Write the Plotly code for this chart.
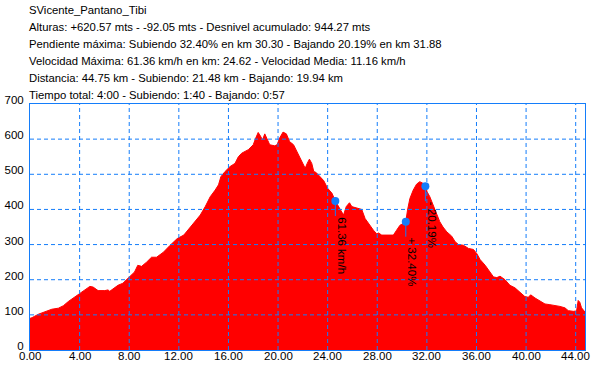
import plotly.graph_objects as go

# ---- data ----
title_lines = [
    "SVicente_Pantano_Tibi",
    "Alturas: +620.57 mts - -92.05 mts - Desnivel acumulado: 944.27 mts",
    "Pendiente máxima: Subiendo 32.40% en km 30.30 - Bajando 20.19% en km 31.88",
    "Velocidad Máxima: 61.36 km/h en km: 24.62 - Velocidad Media: 11.16 km/h",
    "Distancia: 44.75 km - Subiendo: 21.48 km - Bajando: 19.94 km",
    "Tiempo total: 4:00 - Subiendo: 1:40 - Bajando: 0:57",
]

km = [0, 0.16, 0.69, 1.23, 1.76, 2.29, 2.69, 3.09, 3.63, 4.0, 4.43, 4.83, 5.09, 5.49, 6.03,
      6.29, 6.43, 6.69, 7.09, 7.49, 8.0, 8.43, 8.69, 9.0, 9.4, 9.8, 10.2, 10.75, 11.3, 11.87,
      12.4, 12.93, 13.33, 13.73, 14.13, 14.53, 14.93, 15.2, 15.39, 15.73, 16.13, 16.53, 16.8,
      17.07, 17.6, 18.0, 18.2, 18.4, 18.53, 18.75, 18.93, 19.07, 19.33, 19.73, 19.92, 20.13,
      20.4, 20.67, 20.93, 21.25, 21.55, 21.81, 22.0, 22.19, 22.35, 22.53, 22.72, 22.88, 23.07,
      23.41, 23.68, 24.0, 24.35, 24.62, 24.88, 25.15, 25.28, 25.5, 25.76, 25.95, 26.35, 26.75,
      27.02, 27.37, 27.69, 27.96, 28.1, 28.36, 28.9, 29.3, 29.56, 29.83, 30.1, 30.3, 30.44,
      30.63, 30.9, 31.17, 31.43, 31.7, 31.88, 32.02, 32.24, 32.5, 32.77, 33.04, 33.3, 33.61,
      34.0, 34.28, 34.55, 34.95, 35.36, 35.76, 36.03, 36.3, 36.7, 36.97, 37.37, 37.64, 37.9,
      38.3, 38.7, 39.1, 39.5, 39.9, 40.18, 40.37, 40.72, 41.12, 41.52, 41.92, 42.33, 42.73,
      43.13, 43.4, 43.8, 44.07, 44.2, 44.33, 44.47, 44.75]
elev = [90, 92, 102, 110, 116, 119, 126, 138, 152, 160, 171, 181, 179, 169, 169,
        171, 167, 174, 184, 190, 208, 222, 241, 238, 250, 264, 264, 278, 298, 317,
        327, 350, 370, 384, 408, 436, 455, 470, 493, 508, 522, 531, 550,
        560, 570, 584, 603, 619, 612, 598, 615, 603, 584, 581, 584, 603,
        620, 615, 593, 584, 562, 541, 527, 517, 531, 543, 531, 508, 505,
        493, 482, 460, 446, 424, 408, 393, 384, 408, 419, 408, 403, 400,
        374, 355, 341, 330, 333, 327, 327, 327, 341, 355, 360, 365, 398,
        431, 455, 472, 479, 474, 467, 450, 436, 412, 389, 365, 350, 336,
        324, 308, 300, 298, 289, 286, 274, 257, 241, 227, 208, 206, 210,
        200, 184, 177, 165, 152, 150, 157, 148, 139, 131, 129, 127, 124,
        120, 112, 110, 111, 141, 136, 120, 108]

marker_km = [24.62, 30.30, 31.88]
marker_elev = [424, 365, 466]
marker_labels = ["61.36 km/h", "+ 32.40%", "- 20.19%"]

x_ticks = [0, 4, 8, 12, 16, 20, 24, 28, 32, 36, 40, 44]
y_ticks = [0, 100, 200, 300, 400, 500, 600, 700]

# ---- style ----
W, H = 600, 368
L, R, T, B = 30, 15, 104, 18
BLUE = "rgb(20,125,250)"
FONT = "Liberation Sans, Arial, sans-serif"

fig = go.Figure()
fig.add_trace(go.Scatter(
    x=km, y=elev, mode="lines", fill="tozeroy",
    fillcolor="rgb(255,0,0)", line=dict(color="rgb(255,0,0)", width=1),
    hoverinfo="skip", showlegend=False))
fig.add_trace(go.Scatter(
    x=marker_km, y=marker_elev, mode="markers",
    marker=dict(color=BLUE, size=8, line=dict(width=0)),
    showlegend=False))

shapes = []
# grid drawn above the area
for xv in x_ticks[1:]:
    shapes.append(dict(type="line", xref="x", yref="paper", x0=xv, x1=xv, y0=0, y1=1,
                       line=dict(color=BLUE, width=1, dash="4px,3px"), layer="above"))
for yv in y_ticks[1:-1]:
    shapes.append(dict(type="line", xref="paper", yref="y", x0=0, x1=1, y0=yv, y1=yv,
                       line=dict(color=BLUE, width=1, dash="4px,3px"), layer="above"))
# marker stems
for mk, me in zip(marker_km, marker_elev):
    shapes.append(dict(type="line", xref="x", yref="y", ysizemode="pixel", yanchor=me,
                       x0=mk, x1=mk, y0=0, y1=-15,
                       line=dict(color=BLUE, width=1), layer="above"))

annotations = []
for mk, me, lab in zip(marker_km, marker_elev, marker_labels):
    annotations.append(dict(x=mk, y=me, xref="x", yref="y", text=lab, showarrow=False,
                            textangle=90, xanchor="left", yanchor="top",
                            xshift=-2, yshift=-14,
                            font=dict(family=FONT, size=11.5, color="black")))

# x tick labels placed tight under the axis
for xv in x_ticks:
    annotations.append(dict(x=xv, y=0, xref="x", yref="paper", text=f"{xv:.2f}",
                            showarrow=False, xanchor="center", yanchor="top",
                            yshift=1, borderpad=0,
                            font=dict(family=FONT, size=11.5, color="black")))

plot_h = H - T - B
for i, line in enumerate(title_lines):
    py = 10 + i * 17
    annotations.append(dict(x=(27 - L) / (W - L - R), y=(H - B - py) / plot_h,
                            xref="paper", yref="paper", text=line, showarrow=False,
                            xanchor="left", yanchor="middle",
                            font=dict(family=FONT, size=11.3, color="black")))

fig.update_layout(
    width=W, height=H,
    margin=dict(l=L, r=R, t=T, b=B, pad=0, autoexpand=False),
    paper_bgcolor="white", plot_bgcolor="white",
    font=dict(family=FONT, size=11.5, color="black"),
    shapes=shapes, annotations=annotations,
    xaxis=dict(range=[0, 44.75], tickvals=x_ticks, showticklabels=False,
               showgrid=False, zeroline=False, showline=True, mirror=True,
               linecolor=BLUE, linewidth=1, ticks="", ticklen=0,
               automargin=False),
    yaxis=dict(range=[0, 700], tickvals=y_ticks,
               showgrid=False, zeroline=False, showline=True, mirror=True,
               linecolor=BLUE, linewidth=1, ticks="", ticklen=0, ticklabelstandoff=3,
               ticklabelshift=-4, automargin=False),
)

fig.write_html("out.html", config={"displayModeBar": False},
               post_script="document.body.style.margin='0';document.body.style.padding='0';document.body.style.overflow='hidden';")
